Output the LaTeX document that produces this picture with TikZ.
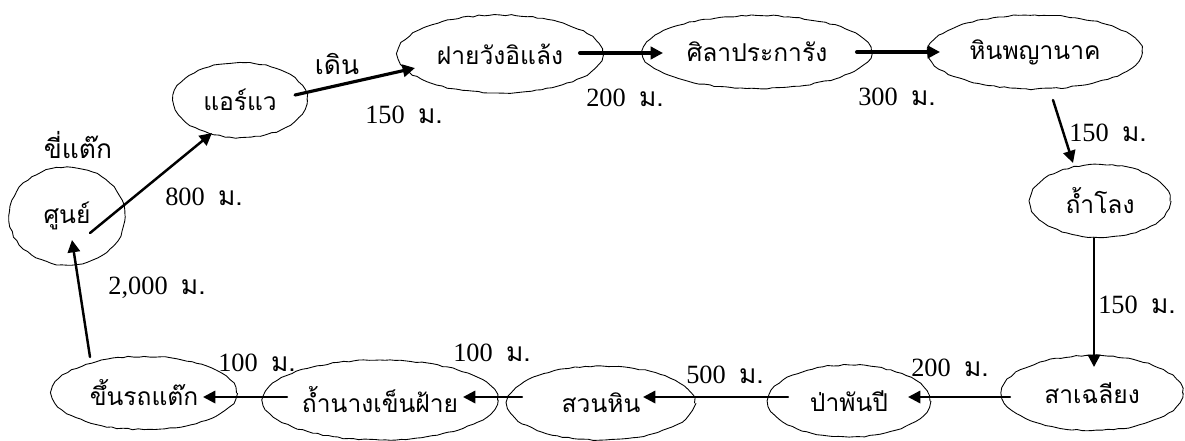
\documentclass[tikz,border=0pt]{standalone}
\usepackage{fontspec}
\setmainfont{Liberation Serif}
\newfontfamily\thaifont[Script=Thai]{Loma}
\usetikzlibrary{shapes.geometric,arrows.meta,calc,decorations.pathmorphing}
\newcommand\mtr{{\thaifont ม.}}
\begin{document}
\begin{tikzpicture}[x=0.02cm,y=-0.02cm,>={Triangle[length=7pt,width=7pt]},
	font=\fontsize{15}{17}\selectfont, line join=round, line cap=round,
	place/.style 2 args={ellipse,draw,line width=0.5pt,inner sep=0pt,
		minimum width=#1*0.02cm,minimum height=#2*0.02cm,font=\fontsize{14}{16}\selectfont\thaifont,
		decorate,decoration={random steps,segment length=3pt,amplitude=0.4pt}},
	walk/.style={->,line width=1.4pt},
	walkbold/.style={->,line width=2.3pt}]
	\pgfmathsetseed{7}
	\useasboundingbox (0,0) rectangle (1185,440);
	% stops
	\node[place={116}{98}]  (A) at (67,216)  {ศูนย์};
	\node[place={134}{75}]  (B) at (240,100) {แอร์แว};
	\node[place={205}{78}]  (C) at (500,54)  {ฝายวังอิแล้ง};
	\node[place={229}{73}]  (D) at (757,52)  {ศิลาประการัง};
	\node[place={214}{74}]  (E) at (1035,52) {หินพญานาค};
	\node[place={140}{73}]  (F) at (1100,201) {ถ้ำโลง};
	\node[place={181}{75}]  (G) at (1092,393) {สาเฉลียง};
	\node[place={162}{72}]  (H) at (849,401) {ป่าพันปี};
	\node[place={187}{74}]  (I) at (601,403) {สวนหิน};
	\node[place={235}{80}]  (J) at (380,400) {ถ้ำนางเข็นฝ้าย};
	\node[place={185}{73}]  (K) at (144,393) {ขึ้นรถแต๊ก};
	% notes
	\node (ride) at (78,145) {\thaifont ขี่แต๊ก};
	\node (foot) at (337,64) {\thaifont เดิน};
	\foreach \x/\y/\d [count=\i] in {204/197/800,404/115/150,625/98/200,897/97/300,1108/133/150,
		1137/305/150,950/368/200,725/375/500,492/353/100,257/363/100,157/288/{2,000}}
	\node (len\i) at (\x,\y) {\d\enspace\mtr};
	% route
	\foreach \a/\ax/\ay/\b/\bx/\by in {A/23/17/B/-28/33,E/18/48/F/-27/-38,F/-6/37/G/2/-26,
		G/-82/4/H/59/-4,H/-61/-4/I/42/-6,I/-79/-6/J/83/-3,J/-93/-3/K/59/4,K/-54/-36/A/5/24}
	\draw[walk] ($(\a)+(\ax,\ay)$) -- ($(\b)+(\bx,\by)$);
	\draw[walk,line width=1.8pt] ($(B)+(55,-5)$) -- ($(C)+(-85,14)$);
	\draw[walkbold] ($(C)+(80,-1)$) -- ($(D)+(-94,1)$);
	\draw[walkbold] ($(D)+(100,0)$) -- ($(E)+(-95,0)$);
\end{tikzpicture}
\end{document}
